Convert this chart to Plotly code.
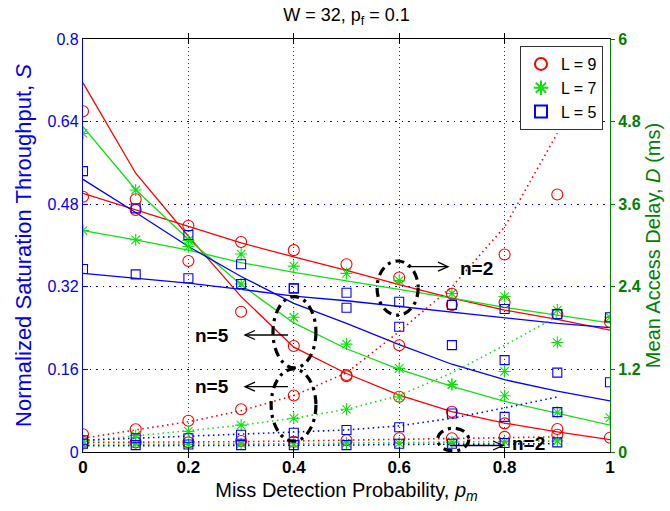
import plotly.graph_objects as go

# ---------------- data ----------------
pm = [0.0, 0.1, 0.2, 0.3, 0.4, 0.5, 0.6, 0.7, 0.8, 0.9, 1.0]
pm_delay = [0.0, 0.1, 0.2, 0.3, 0.4, 0.5, 0.6, 0.7, 0.8, 0.9]

x_ticks = [0, 0.2, 0.4, 0.6, 0.8, 1.0]
x_ticktext = ["0", "0.2", "0.4", "0.6", "0.8", "1"]
s_ticks = [0, 0.16, 0.32, 0.48, 0.64, 0.8]
s_ticktext = ["0", "0.16", "0.32", "0.48", "0.64", "0.8"]
d_ticks = [0, 1.2, 2.4, 3.6, 4.8, 6.0]
d_ticktext = ["0", "1.2", "2.4", "3.6", "4.8", "6"]

legend_names = ["L = 9", "L = 7", "L = 5"]

# throughput, analysis (solid lines) -- n=2 (flat) and n=5 (steep)
S_flat_L9 = [0.501, 0.469, 0.438, 0.405, 0.378, 0.352, 0.324, 0.298, 0.275, 0.257, 0.236]
S_flat_L7 = [0.429, 0.411, 0.391, 0.367, 0.348, 0.332, 0.315, 0.298, 0.280, 0.265, 0.250]
S_flat_L5 = [0.346, 0.337, 0.327, 0.315, 0.302, 0.293, 0.282, 0.270, 0.259, 0.249, 0.241]
S_steep_L9 = [0.715, 0.540, 0.418, 0.301, 0.203, 0.152, 0.110, 0.078, 0.056, 0.039, 0.024]
S_steep_L7 = [0.630, 0.508, 0.412, 0.324, 0.250, 0.200, 0.160, 0.127, 0.098, 0.075, 0.052]
S_steep_L5 = [0.528, 0.464, 0.398, 0.340, 0.288, 0.249, 0.208, 0.170, 0.140, 0.118, 0.099]

# throughput, simulation (markers)
Ssim_flat_L9 = [0.4945, 0.469, 0.4384, 0.4068, 0.391, 0.3636, 0.338, 0.285, 0.290, 0.267, 0.252]
Ssim_flat_L7 = [0.429, 0.411, 0.398, 0.3835, 0.360, 0.346, 0.332, 0.307, 0.301, 0.275, 0.261]
Ssim_flat_L5 = [0.3545, 0.344, 0.3365, 0.3254, 0.317, 0.3086, 0.291, 0.285, 0.277, 0.267, 0.261]
Ssim_steep_L9 = [0.660, 0.4895, 0.370, 0.2718, 0.2053, 0.149, 0.107, 0.078, 0.0555, 0.0445, 0.0277]
Ssim_steep_L7 = [0.617, 0.5075, 0.410, 0.3254, 0.261, 0.209, 0.162, 0.131, 0.109, 0.0769, 0.0665]
Ssim_steep_L5 = [0.544, 0.472, 0.4203, 0.3636, 0.317, 0.2795, 0.2427, 0.207, 0.178, 0.1537, 0.135]

# mean access delay (ms), n=5 : analysis (dotted) and simulation (markers)
D5_L9 = [0.20, 0.32, 0.44, 0.60, 0.82, 1.15, 1.75, 2.40, 3.27, 4.63]
D5_L7 = [0.16, 0.23, 0.31, 0.39, 0.49, 0.62, 0.82, 1.15, 1.55, 1.97]
D5_L5 = [0.17, 0.20, 0.23, 0.25, 0.28, 0.32, 0.38, 0.49, 0.64, 0.80]
D5sim_L9 = [0.257, 0.33, 0.455, 0.62, 0.82, 1.10, 1.55, 2.30, 2.87, 3.74]
D5sim_L7 = [0.16, 0.24, 0.30, 0.39, 0.49, 0.62, 0.80, 0.98, 1.17, 1.59]
D5sim_L5 = [0.17, 0.20, 0.20, 0.25, 0.28, 0.32, 0.36, 0.56, 0.51, 0.58]

# mean access delay (ms), n=2
D2_L9 = [0.14, 0.14, 0.15, 0.15, 0.16, 0.17, 0.18, 0.19, 0.20, 0.22]
D2_L7 = [0.11, 0.11, 0.12, 0.12, 0.12, 0.13, 0.14, 0.14, 0.15, 0.16]
D2_L5 = [0.09, 0.09, 0.09, 0.10, 0.10, 0.10, 0.11, 0.11, 0.12, 0.12]
D2sim_L9 = [0.15, 0.14, 0.14, 0.16, 0.15, 0.17, 0.20, 0.20, 0.22, 0.25]
D2sim_L7 = [0.11, 0.12, 0.11, 0.12, 0.12, 0.13, 0.13, 0.14, 0.15, 0.16]
D2sim_L5 = [0.12, 0.10, 0.11, 0.10, 0.10, 0.10, 0.12, 0.12, 0.13, 0.14]

# ---------------- styles ----------------
RED = "#ff0000"
GREEN = "#10e010"
BLUE = "#0000ff"
AX_BLUE = "#0000ee"
AX_GREEN = "#008000"
FONT = "Liberation Sans, Arial, sans-serif"

series = [
    (legend_names[0], RED, "circle-open", 11,
     S_flat_L9, S_steep_L9, Ssim_flat_L9, Ssim_steep_L9, D5_L9, D5sim_L9, D2_L9, D2sim_L9),
    (legend_names[1], GREEN, "asterisk-open", 10,
     S_flat_L7, S_steep_L7, Ssim_flat_L7, Ssim_steep_L7, D5_L7, D5sim_L7, D2_L7, D2sim_L7),
    (legend_names[2], BLUE, "square-open", 9,
     S_flat_L5, S_steep_L5, Ssim_flat_L5, Ssim_steep_L5, D5_L5, D5sim_L5, D2_L5, D2sim_L5),
]

fig = go.Figure()

# analysis lines first
for name, col, sym, msz, sf, ss, simf, sims, d5, d5s, d2, d2s in series:
    for ys in (sf, ss):
        fig.add_trace(go.Scatter(x=pm, y=ys, mode="lines", yaxis="y",
                                 line=dict(color=col, width=1.3), showlegend=False,
                                 hoverinfo="skip"))
    for ys in (d5, d2):
        fig.add_trace(go.Scatter(x=pm_delay, y=ys, mode="lines", yaxis="y2",
                                 line=dict(color=col, width=1.6, dash="1.5px,3.5px"),
                                 showlegend=False, hoverinfo="skip"))

# simulation markers
for name, col, sym, msz, sf, ss, simf, sims, d5, d5s, d2, d2s in series:
    mk = dict(symbol=sym, size=msz, color=col, line=dict(color=col, width=1.1))
    fig.add_trace(go.Scatter(x=pm, y=simf, mode="markers", yaxis="y", marker=mk,
                             name=name, showlegend=True))
    fig.add_trace(go.Scatter(x=pm, y=sims, mode="markers", yaxis="y", marker=mk,
                             showlegend=False))
    fig.add_trace(go.Scatter(x=pm_delay, y=d5s, mode="markers", yaxis="y2", marker=mk,
                             showlegend=False))
    fig.add_trace(go.Scatter(x=pm_delay, y=d2s, mode="markers", yaxis="y2", marker=mk,
                             showlegend=False))

# ---------------- annotations (ellipses + arrows) ----------------
PX_X = 527.0   # px per unit of p_m
PX_S = 516.25  # px per unit of S

ellipses = [  # (x0, x1, y0, y1) in data units of the left axis
    (0.3605, 0.442, 0.163, 0.301),
    (0.357, 0.442, 0.021, 0.161),
    (0.558, 0.636, 0.265, 0.370),
    (0.673, 0.732, 0.002, 0.046),
]
shapes = []
for x0, x1, y0, y1 in ellipses:
    shapes.append(dict(type="circle", xref="x", yref="y", x0=x0, x1=x1, y0=y0, y1=y1,
                       line=dict(color="black", width=3.2, dash="9px,5px,3px,5px")))

arrows = [  # (tail_x, head_x, y, label, label_x, label_y)
    (0.389, 0.3074, 0.2266, "n=5", 0.244, 0.2266),
    (0.389, 0.3074, 0.1265, "n=5", 0.244, 0.1265),
    (0.615, 0.6926, 0.359, "n=2", 0.747, 0.356),
    (0.696, 0.797, 0.0126, "n=2", 0.846, 0.0165),
]
annotations = []
for tx, hx, ay, lab, lx, ly in arrows:
    sgn = 1 if hx > tx else -1
    bx = hx - sgn * 10 / PX_X
    dy = 4.5 / PX_S
    shapes.append(dict(type="line", xref="x", yref="y", x0=tx, x1=hx, y0=ay, y1=ay,
                       line=dict(color="black", width=1.3)))
    shapes.append(dict(type="path", xref="x", yref="y",
                       path=f"M {bx},{ay + dy} L {hx},{ay} L {bx},{ay - dy}",
                       line=dict(color="black", width=1.3)))
    annotations.append(dict(x=lx, y=ly, xref="x", yref="y", text=f"<b>{lab}</b>",
                            showarrow=False, font=dict(size=19, color="black", family=FONT),
                            xanchor="center", yanchor="middle"))

fig.update_layout(
    width=670, height=511,
    margin=dict(l=83, r=60, t=39, b=59),
    paper_bgcolor="white", plot_bgcolor="white",
    font=dict(family=FONT, size=16, color="black"),
    title=dict(text="W = 32, p<sub>f</sub> = 0.1", x=0.5, xref="paper", xanchor="center",
               y=1 - 15 / 511, yref="container", yanchor="middle",
               font=dict(size=18, color="black", family=FONT)),
    xaxis=dict(range=[0, 1], tickvals=x_ticks, ticktext=[f"<b>{t}</b>" for t in x_ticktext],
               tickfont=dict(size=17, color="black"),
               showgrid=True, gridcolor="#333333", griddash="1px,3px", gridwidth=1,
               showline=True, linecolor="black", linewidth=1, mirror="allticks",
               ticks="inside", ticklen=5, tickcolor="black", zeroline=False,
               title=dict(text="Miss Detection Probability, <i>p</i><sub><i>m</i></sub>",
                          font=dict(size=20, color="black"), standoff=6),
               automargin=False),
    yaxis=dict(range=[0, 0.8], tickvals=s_ticks, ticktext=s_ticktext,
               tickfont=dict(size=16, color=AX_BLUE),
               showgrid=True, gridcolor=BLUE, griddash="1.5px,5px", gridwidth=1,
               showline=True, linecolor=AX_BLUE, linewidth=1.3, mirror=False,
               ticks="inside", ticklen=5, tickcolor=AX_BLUE, zeroline=False,
               title=dict(text="Normalized Saturation Throughput, <i>S</i>",
                          font=dict(size=22, color=AX_BLUE), standoff=9),
               automargin=False),
    yaxis2=dict(range=[0, 6], tickvals=d_ticks, ticktext=[f"<b>{t}</b>" for t in d_ticktext],
                tickfont=dict(size=16, color=AX_GREEN),
                overlaying="y", side="right", showgrid=False,
                showline=True, linecolor=AX_GREEN, linewidth=1.3,
                ticks="outside", ticklen=4, tickcolor=AX_GREEN, zeroline=False,
                title=dict(text="Mean Access Delay, <i>D</i> (ms)",
                           font=dict(size=20, color=AX_GREEN), standoff=6),
                automargin=False),
    legend=dict(x=0.9867, y=0.983, xanchor="right", yanchor="top",
                bgcolor="white", bordercolor="#333333", borderwidth=1,
                font=dict(size=16, color="black"), entrywidth=65, entrywidthmode="pixels",
                tracegroupgap=0, itemsizing="constant"),
    shapes=shapes, annotations=annotations,
    showlegend=True,
)

fig.write_html("out.html")
